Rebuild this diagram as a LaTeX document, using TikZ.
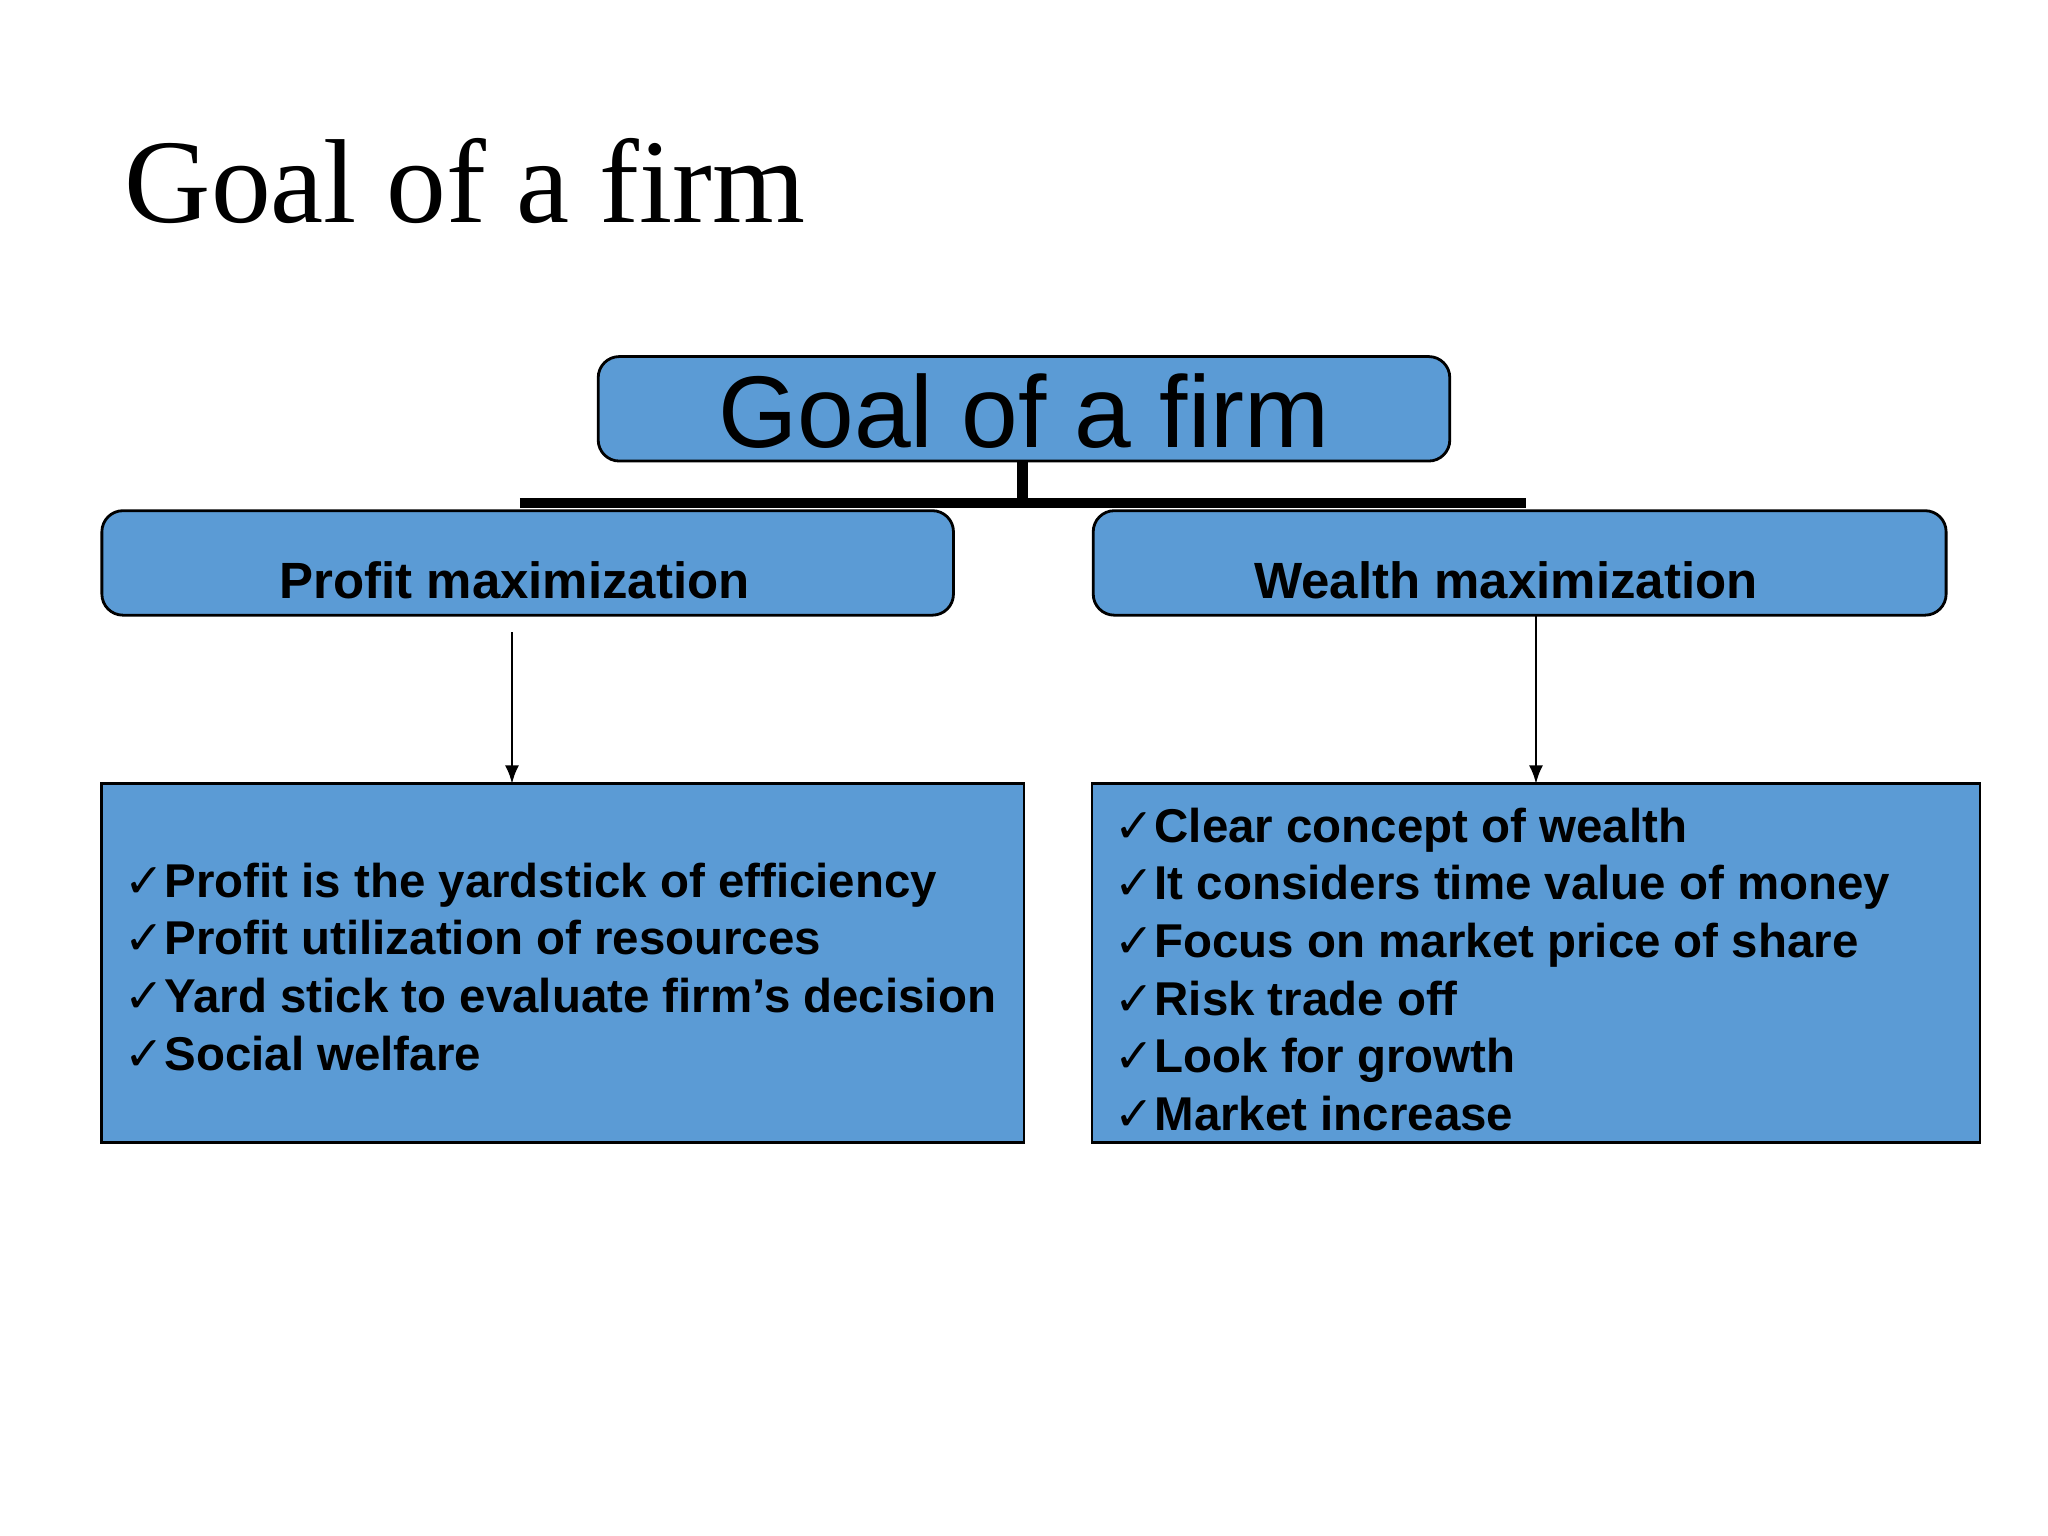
\documentclass[tikz,border=0pt]{standalone}
\usepackage{fontspec}
\setmainfont{Liberation Serif}
\setsansfont{Liberation Sans}
\newfontfamily\chk{DejaVu Sans}
\definecolor{boxblue}{HTML}{5B9BD5}
\begin{document}
\begin{tikzpicture}[x=0.013061cm,y=-0.013061cm,
  rbox/.style={draw=black,fill=boxblue,rounded corners=6pt,line width=0.8pt},
  sbox/.style={draw=black,fill=boxblue,line width=0.8pt},
  lst/.style={anchor=north west,align=left,font=\sffamily\bfseries\fontsize{13.5}{16.4}\selectfont,inner sep=0pt}]
\useasboundingbox (0,0) rectangle (1568,1176);
\node[anchor=base west,inner sep=0pt,font=\fontsize{34}{40}\selectfont] (title) at (95,170) {Goal of a firm};
\draw[rbox] (458,273) rectangle (1110,353);
\node[font=\sffamily\fontsize{29}{34}\selectfont] (top) at (784,315) {Goal of a firm};
\draw[rbox] (78,391) rectangle (730,471);
\node[font=\sffamily\bfseries\fontsize{14.5}{17}\selectfont] (pm) at (394,444) {Profit maximization};
\draw[rbox] (837,391) rectangle (1490,471);
\node[font=\sffamily\bfseries\fontsize{14.5}{17}\selectfont] (wm) at (1153,444) {Wealth maximization};
\coordinate (tb) at (783,353);
\coordinate (bm) at (783,385);
\coordinate (bl) at (398,385);
\coordinate (br) at (1168,385);
\draw[line width=3pt] (bl) -- (br);
\draw[line width=3pt] (tb) -- (bm);
\draw[sbox] (78,600) rectangle (784,875);
\draw[sbox] (836,600) rectangle (1516,875);
\coordinate (a1) at (392,484); \coordinate (a2) at (392,600);
\coordinate (b1) at (1176,471); \coordinate (b2) at (1176,600);
\draw[-latex,line width=0.8pt] (a1) -- (a2);
\draw[-latex,line width=0.8pt] (b1) -- (b2);
\node[lst] (l1) at (95,660) {{\chk ✓}Profit is the yardstick of efficiency\\{\chk ✓}Profit utilization of resources\\{\chk ✓}Yard stick to evaluate firm’s decision\\{\chk ✓}Social welfare};
\node[lst] (l2) at (853,618) {{\chk ✓}Clear concept of wealth\\{\chk ✓}It considers time value of money\\{\chk ✓}Focus on market price of share\\{\chk ✓}Risk trade off\\{\chk ✓}Look for growth\\{\chk ✓}Market increase};
\end{tikzpicture}
\end{document}
